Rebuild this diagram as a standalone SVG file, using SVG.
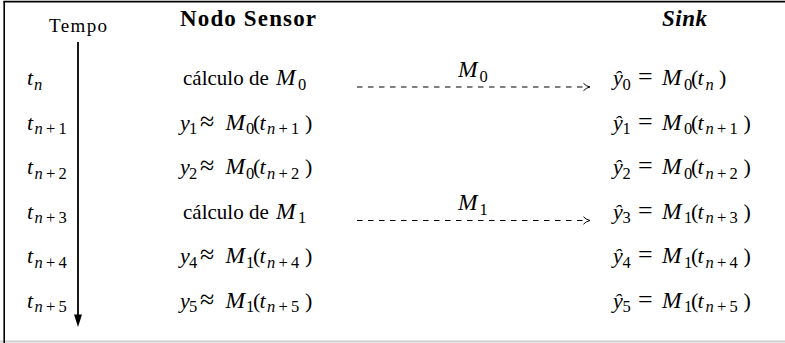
<svg xmlns="http://www.w3.org/2000/svg" width="785" height="343" viewBox="0 0 785 343">
<style>
text { font-family: "Liberation Serif", "Times New Roman", serif; font-size: 21px; fill: #000; }
.i { font-style: italic; font-size: 22px; }
.M { font-style: italic; font-size: 23.5px; }
.s { font-size: 16.5px; }
.si { font-size: 16.5px; font-style: italic; }
.op { font-size: 22px; }
.eq { font-size: 26px; }
.hb { font-weight: bold; font-size: 23px; }
.dash { stroke: #000; stroke-width: 1; fill: none; stroke-dasharray: 5.5 5.5; }
.head { stroke: #000; stroke-width: 1; fill: none; }
</style>
<rect width="785" height="343" fill="#fff"/>
<g id="frame">
<line x1="0" y1="341.5" x2="785" y2="341.5" stroke="#cfcfcf" stroke-width="2"/>
<line x1="4.2" y1="1" x2="4.2" y2="343" stroke="#000" stroke-width="1.6"/>
<line x1="3.5" y1="1.6" x2="785" y2="1.6" stroke="#000" stroke-width="1.6"/>
</g>

<g id="connectors">
<g id="timeline">
<line x1="78" y1="42" x2="78" y2="316" stroke="#000" stroke-width="1.8"/>
<path d="M74,314.5 L82,314.5 L78,327 Z" fill="#000"/>
</g>
<g id="arrow-M0">
<line class="dash" x1="357" y1="87" x2="588" y2="87"/>
<path class="head" d="M583.5,83.3 Q586,86.2 590,87 Q586,87.8 583.5,90.7"/>
<text><tspan class="M" x="458" y="77">M</tspan><tspan class="s" x="479.5" y="81.5">0</tspan></text>
</g>
<g id="arrow-M1">
<line class="dash" x1="357" y1="220.5" x2="588" y2="220.5"/>
<path class="head" d="M583.5,216.8 Q586,219.7 590,220.5 Q586,221.3 583.5,224.2"/>
<text><tspan class="M" x="458" y="210">M</tspan><tspan class="s" x="479.5" y="214.5">1</tspan></text>
</g>
</g>

<g id="header-tempo"><text x="49" y="31.5" style="font-size:19px" textLength="58" lengthAdjust="spacing">Tempo</text></g>
<g id="header-sensor"><text class="hb" x="180" y="26" textLength="136" lengthAdjust="spacing">Nodo Sensor</text></g>
<g id="header-sink"><text class="hb" x="662" y="26" style="font-style:italic" textLength="45" lengthAdjust="spacing">Sink</text></g>

<g id="time-labels">
<text><tspan class="i" x="27" y="85">t</tspan><tspan class="si" x="34" y="89.5">n</tspan></text>
<text><tspan class="i" x="27" y="129.5">t</tspan><tspan class="si" x="34.5" y="134">n</tspan><tspan class="s" x="46" y="134">+</tspan><tspan class="s" x="58.5" y="134">1</tspan></text>
<text><tspan class="i" x="27" y="174">t</tspan><tspan class="si" x="34.5" y="178.5">n</tspan><tspan class="s" x="46" y="178.5">+</tspan><tspan class="s" x="58.5" y="178.5">2</tspan></text>
<text><tspan class="i" x="27" y="218.5">t</tspan><tspan class="si" x="34.5" y="223">n</tspan><tspan class="s" x="46" y="223">+</tspan><tspan class="s" x="58.5" y="223">3</tspan></text>
<text><tspan class="i" x="27" y="263">t</tspan><tspan class="si" x="34.5" y="267.5">n</tspan><tspan class="s" x="46" y="267.5">+</tspan><tspan class="s" x="58.5" y="267.5">4</tspan></text>
<text><tspan class="i" x="27" y="307.5">t</tspan><tspan class="si" x="34.5" y="312">n</tspan><tspan class="s" x="46" y="312">+</tspan><tspan class="s" x="58.5" y="312">5</tspan></text>
</g>

<g id="sensor-rows">
<text><tspan x="183" y="85">cálculo de</tspan><tspan class="M" x="276" y="85">M</tspan><tspan class="s" x="298" y="89.5">0</tspan></text>
<text><tspan class="i" x="180" y="129.5">y</tspan><tspan class="s" x="189" y="134">1</tspan><tspan class="eq" x="200" y="129.5">≈</tspan><tspan class="M" x="225.5" y="129.5">M</tspan><tspan class="s" x="246" y="134">0</tspan><tspan class="op" x="253" y="129.5">(</tspan><tspan class="i" x="259.5" y="129.5">t</tspan><tspan class="si" x="267" y="134">n</tspan><tspan class="s" x="278.5" y="134">+</tspan><tspan class="s" x="291" y="134">1</tspan><tspan class="op" x="305" y="129.5">)</tspan></text>
<text><tspan class="i" x="180" y="174">y</tspan><tspan class="s" x="189" y="178.5">2</tspan><tspan class="eq" x="200" y="174">≈</tspan><tspan class="M" x="225.5" y="174">M</tspan><tspan class="s" x="246" y="178.5">0</tspan><tspan class="op" x="253" y="174">(</tspan><tspan class="i" x="259.5" y="174">t</tspan><tspan class="si" x="267" y="178.5">n</tspan><tspan class="s" x="278.5" y="178.5">+</tspan><tspan class="s" x="291" y="178.5">2</tspan><tspan class="op" x="305" y="174">)</tspan></text>
<text><tspan x="183" y="218.5">cálculo de</tspan><tspan class="M" x="276" y="218.5">M</tspan><tspan class="s" x="298" y="223">1</tspan></text>
<text><tspan class="i" x="180" y="263">y</tspan><tspan class="s" x="189" y="267.5">4</tspan><tspan class="eq" x="200" y="263">≈</tspan><tspan class="M" x="225.5" y="263">M</tspan><tspan class="s" x="246" y="267.5">1</tspan><tspan class="op" x="253" y="263">(</tspan><tspan class="i" x="259.5" y="263">t</tspan><tspan class="si" x="267" y="267.5">n</tspan><tspan class="s" x="278.5" y="267.5">+</tspan><tspan class="s" x="291" y="267.5">4</tspan><tspan class="op" x="305" y="263">)</tspan></text>
<text><tspan class="i" x="180" y="307.5">y</tspan><tspan class="s" x="189" y="312">5</tspan><tspan class="eq" x="200" y="307.5">≈</tspan><tspan class="M" x="225.5" y="307.5">M</tspan><tspan class="s" x="246" y="312">1</tspan><tspan class="op" x="253" y="307.5">(</tspan><tspan class="i" x="259.5" y="307.5">t</tspan><tspan class="si" x="267" y="312">n</tspan><tspan class="s" x="278.5" y="312">+</tspan><tspan class="s" x="291" y="312">5</tspan><tspan class="op" x="305" y="307.5">)</tspan></text>
</g>

<g id="sink-rows">
<text><tspan class="i" x="613" y="85">ŷ</tspan><tspan class="s" x="622.5" y="89.5">0</tspan><tspan class="eq" x="638" y="85">=</tspan><tspan class="M" x="662" y="85">M</tspan><tspan class="s" x="684" y="89.5">0</tspan><tspan class="op" x="691" y="85">(</tspan><tspan class="i" x="697.5" y="85">t</tspan><tspan class="si" x="705.5" y="89.5">n</tspan><tspan class="op" x="719" y="85">)</tspan></text>
<text><tspan class="i" x="613" y="129.5">ŷ</tspan><tspan class="s" x="622.5" y="134">1</tspan><tspan class="eq" x="638" y="129.5">=</tspan><tspan class="M" x="662" y="129.5">M</tspan><tspan class="s" x="684" y="134">0</tspan><tspan class="op" x="691" y="129.5">(</tspan><tspan class="i" x="697.5" y="129.5">t</tspan><tspan class="si" x="705.5" y="134">n</tspan><tspan class="s" x="717" y="134">+</tspan><tspan class="s" x="729.5" y="134">1</tspan><tspan class="op" x="743.5" y="129.5">)</tspan></text>
<text><tspan class="i" x="613" y="174">ŷ</tspan><tspan class="s" x="622.5" y="178.5">2</tspan><tspan class="eq" x="638" y="174">=</tspan><tspan class="M" x="662" y="174">M</tspan><tspan class="s" x="684" y="178.5">0</tspan><tspan class="op" x="691" y="174">(</tspan><tspan class="i" x="697.5" y="174">t</tspan><tspan class="si" x="705.5" y="178.5">n</tspan><tspan class="s" x="717" y="178.5">+</tspan><tspan class="s" x="729.5" y="178.5">2</tspan><tspan class="op" x="743.5" y="174">)</tspan></text>
<text><tspan class="i" x="613" y="218.5">ŷ</tspan><tspan class="s" x="622.5" y="223">3</tspan><tspan class="eq" x="638" y="218.5">=</tspan><tspan class="M" x="662" y="218.5">M</tspan><tspan class="s" x="684" y="223">1</tspan><tspan class="op" x="691" y="218.5">(</tspan><tspan class="i" x="697.5" y="218.5">t</tspan><tspan class="si" x="705.5" y="223">n</tspan><tspan class="s" x="717" y="223">+</tspan><tspan class="s" x="729.5" y="223">3</tspan><tspan class="op" x="743.5" y="218.5">)</tspan></text>
<text><tspan class="i" x="613" y="263">ŷ</tspan><tspan class="s" x="622.5" y="267.5">4</tspan><tspan class="eq" x="638" y="263">=</tspan><tspan class="M" x="662" y="263">M</tspan><tspan class="s" x="684" y="267.5">1</tspan><tspan class="op" x="691" y="263">(</tspan><tspan class="i" x="697.5" y="263">t</tspan><tspan class="si" x="705.5" y="267.5">n</tspan><tspan class="s" x="717" y="267.5">+</tspan><tspan class="s" x="729.5" y="267.5">4</tspan><tspan class="op" x="743.5" y="263">)</tspan></text>
<text><tspan class="i" x="613" y="307.5">ŷ</tspan><tspan class="s" x="622.5" y="312">5</tspan><tspan class="eq" x="638" y="307.5">=</tspan><tspan class="M" x="662" y="307.5">M</tspan><tspan class="s" x="684" y="312">1</tspan><tspan class="op" x="691" y="307.5">(</tspan><tspan class="i" x="697.5" y="307.5">t</tspan><tspan class="si" x="705.5" y="312">n</tspan><tspan class="s" x="717" y="312">+</tspan><tspan class="s" x="729.5" y="312">5</tspan><tspan class="op" x="743.5" y="307.5">)</tspan></text>
</g>
</svg>
